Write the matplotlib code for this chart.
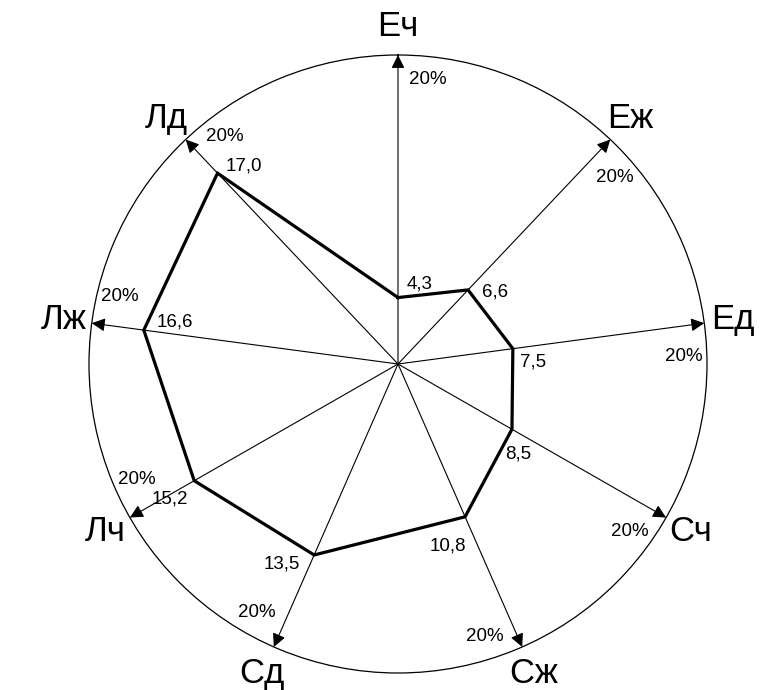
import numpy as np
import matplotlib
matplotlib.use("Agg")
import matplotlib.pyplot as plt

plt.rcParams['font.family'] = ['Liberation Sans', 'DejaVu Sans']

# ---- data ----
categories = ["Еч", "Еж", "Ед", "Сч", "Сж", "Сд", "Лч", "Лж", "Лд"]
values = [4.3, 6.6, 7.5, 8.5, 10.8, 13.5, 15.2, 16.6, 17.0]
value_labels = ["4,3", "6,6", "7,5", "8,5", "10,8", "13,5", "15,2", "16,6", "17,0"]
r_max = 20
max_label = "20%"

# ---- layout ----
# axis directions (degrees clockwise from top), as drawn in the reference
axis_angles = [0, 43.4, 82.4, 119.8, 156.3, 203.7, 240.2, 277.6, 316.6]
# pixel offsets of value labels from their points
label_offsets = [(22, 14), (27, -2), (20, -13), (6, -25), (-17, -29),
                 (-32, -9), (-24, -18), (31, 8), (26, 7)]

fig = plt.figure(figsize=(7.64, 6.90), dpi=100)
R_px = 309
cx, cy = 398, 364
W, H = 764, 690
ax = fig.add_axes([(cx - R_px) / W, (H - cy - R_px) / H, 2 * R_px / W, 2 * R_px / H],
                  projection='polar')
ax.set_theta_zero_location('N')
ax.set_theta_direction(-1)
ax.set_ylim(0, r_max)
ax.set_xticks([])
ax.set_yticks([])
ax.grid(False)
ax.spines['polar'].set_linewidth(0.9)

theta = np.deg2rad(axis_angles)

# axes arrows
for t in theta:
    ax.annotate("", xy=(t, r_max), xytext=(t, 0),
                arrowprops=dict(arrowstyle='-|>', color='black', lw=0.8,
                                mutation_scale=20, shrinkA=0, shrinkB=0),
                annotation_clip=False, zorder=2)
    ax.text(t + np.deg2rad(6), 18.5, max_label, fontsize=13.5,
            ha='center', va='center', zorder=4)

# category labels
for t, c in zip(theta, categories):
    ax.text(t, 21.85, c, fontsize=25, ha='center', va='center', clip_on=False)

# polygon
tt = np.append(theta, theta[0])
vv = np.append(values, values[0])
ax.plot(tt, vv, color='black', lw=2.3, solid_joinstyle='miter', zorder=3)

# value labels
for t, v, lab, off in zip(theta, values, value_labels, label_offsets):
    ax.annotate(lab, xy=(t, v), xytext=off, textcoords='offset pixels',
                fontsize=13.5, ha='center', va='center', zorder=5)

fig.savefig("out.png", dpi=100)
